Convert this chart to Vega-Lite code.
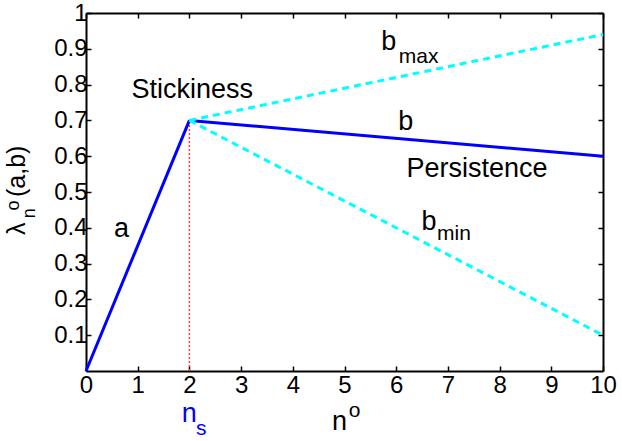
{
  "$schema": "https://vega.github.io/schema/vega-lite/v6.json",
  "width": 517,
  "height": 358,
  "autosize": {"type": "none"},
  "padding": {"left": 86, "top": 13, "right": 19, "bottom": 70},
  "background": "white",
  "config": {
    "view": {"stroke": null},
    "text": {"font": "Liberation Sans", "color": "black"}
  },
  "datasets": {
    "lines": [
      {"seg": "ns", "x": 2, "y": 0},
      {"seg": "ns", "x": 2, "y": 0.7},
      {"seg": "a", "x": 0, "y": 0},
      {"seg": "a", "x": 2, "y": 0.7},
      {"seg": "b", "x": 2, "y": 0.7},
      {"seg": "b", "x": 10, "y": 0.6},
      {"seg": "bmax", "x": 2, "y": 0.7},
      {"seg": "bmax", "x": 10, "y": 0.94},
      {"seg": "bmin", "x": 2, "y": 0.7},
      {"seg": "bmin", "x": 10, "y": 0.1}
    ],
    "labels": [
      {"text": "a", "x": 0.54, "y": 0.374},
      {"text": "Stickiness", "x": 0.88, "y": 0.763},
      {"text": "b", "x": 6.04, "y": 0.673},
      {"text": "Persistence", "x": 6.2, "y": 0.542},
      {"text": "b", "x": 5.71, "y": 0.897},
      {"text": "b", "x": 6.49, "y": 0.394},
      {"text": "n", "x": 4.76, "y": -0.165}
    ],
    "subs": [
      {"text": "max", "x": 6.05, "y": 0.86},
      {"text": "min", "x": 6.79, "y": 0.366},
      {"text": "o", "x": 5.08, "y": -0.128}
    ],
    "ns": [
      {"text": "n", "x": 1.85, "y": -0.142}
    ],
    "nssub": [
      {"text": "s", "x": 2.13, "y": -0.179}
    ],
    "ytitle": [
      {"text": "λ", "x": -1.18, "y": 0.38},
      {"text": "(a,b)", "x": -1.18, "y": 0.486}
    ],
    "ytitlesmall": [
      {"text": "n", "x": -0.99, "y": 0.427},
      {"text": "o", "x": -1.3, "y": 0.448}
    ]
  },
  "resolve": {"axis": {"x": "independent", "y": "independent"}},
  "layer": [
    {
      "data": {"name": "lines"},
      "transform": [{"filter": "datum.seg === 'ns'"}],
      "mark": {"type": "line", "color": "#ff4040", "strokeWidth": 1.5, "strokeDash": [2, 2]},
      "encoding": {
        "x": {"field": "x", "type": "quantitative", "scale": {"domain": [0, 10], "nice": false},
          "axis": {"orient": "bottom", "values": [0,1,2,3,4,5,6,7,8,9,10], "title": null, "grid": false,
            "tickSize": -5, "tickWidth": 1.5, "tickColor": "black", "domainColor": "black", "domainWidth": 2,
            "labelFont": "Liberation Sans", "labelFontSize": 24, "labelColor": "black", "labelPadding": 7,
            "labelFlush": false, "labelOverlap": false, "format": "d"}},
        "y": {"field": "y", "type": "quantitative", "scale": {"domain": [0, 1], "nice": false},
          "axis": {"orient": "left", "values": [0.1,0.2,0.3,0.4,0.5,0.6,0.7,0.8,0.9,1], "title": null, "grid": false,
            "tickSize": -5, "tickWidth": 1.5, "tickColor": "black", "domainColor": "black", "domainWidth": 2,
            "labelFont": "Liberation Sans", "labelFontSize": 24, "labelColor": "black", "labelPadding": 4,
            "labelFlush": false, "labelOverlap": false, "format": "~g"}},
        "detail": {"field": "seg"}
      }
    },
    {
      "data": {"name": "lines"},
      "transform": [{"filter": "datum.seg === 'a' || datum.seg === 'b'"}],
      "mark": {"type": "line", "color": "#0000ff", "strokeWidth": 3},
      "encoding": {
        "x": {"field": "x", "type": "quantitative",
          "axis": {"orient": "top", "values": [0,1,2,3,4,5,6,7,8,9,10], "title": null, "grid": false, "labels": false,
            "tickSize": -5, "tickWidth": 1.5, "tickColor": "black", "domainColor": "black", "domainWidth": 2}},
        "y": {"field": "y", "type": "quantitative",
          "axis": {"orient": "right", "values": [0.1,0.2,0.3,0.4,0.5,0.6,0.7,0.8,0.9,1], "title": null, "grid": false, "labels": false,
            "tickSize": -5, "tickWidth": 1.5, "tickColor": "black", "domainColor": "black", "domainWidth": 2}},
        "detail": {"field": "seg"}
      }
    },
    {
      "data": {"name": "lines"},
      "transform": [{"filter": "datum.seg === 'bmax' || datum.seg === 'bmin'"}],
      "mark": {"type": "line", "color": "#00ffff", "strokeWidth": 3, "strokeDash": [7, 5]},
      "encoding": {
        "x": {"field": "x", "type": "quantitative", "axis": null},
        "y": {"field": "y", "type": "quantitative", "axis": null},
        "detail": {"field": "seg"}
      }
    },
    {
      "data": {"name": "labels"},
      "mark": {"type": "text", "fontSize": 27, "align": "left", "baseline": "alphabetic", "clip": false},
      "encoding": {
        "x": {"field": "x", "type": "quantitative", "axis": null},
        "y": {"field": "y", "type": "quantitative", "axis": null},
        "text": {"field": "text"}
      }
    },
    {
      "data": {"name": "subs"},
      "mark": {"type": "text", "fontSize": 21, "align": "left", "baseline": "alphabetic", "clip": false},
      "encoding": {
        "x": {"field": "x", "type": "quantitative", "axis": null},
        "y": {"field": "y", "type": "quantitative", "axis": null},
        "text": {"field": "text"}
      }
    },
    {
      "data": {"name": "ns"},
      "mark": {"type": "text", "fontSize": 27, "align": "left", "baseline": "alphabetic", "color": "#0000ff", "clip": false},
      "encoding": {
        "x": {"field": "x", "type": "quantitative", "axis": null},
        "y": {"field": "y", "type": "quantitative", "axis": null},
        "text": {"field": "text"}
      }
    },
    {
      "data": {"name": "nssub"},
      "mark": {"type": "text", "fontSize": 21, "align": "left", "baseline": "alphabetic", "color": "#0000ff", "clip": false},
      "encoding": {
        "x": {"field": "x", "type": "quantitative", "axis": null},
        "y": {"field": "y", "type": "quantitative", "axis": null},
        "text": {"field": "text"}
      }
    },
    {
      "data": {"name": "ytitle"},
      "mark": {"type": "text", "fontSize": 25, "align": "left", "baseline": "alphabetic", "angle": 270, "clip": false},
      "encoding": {
        "x": {"field": "x", "type": "quantitative", "axis": null},
        "y": {"field": "y", "type": "quantitative", "axis": null},
        "text": {"field": "text"}
      }
    },
    {
      "data": {"name": "ytitlesmall"},
      "mark": {"type": "text", "fontSize": 18, "align": "left", "baseline": "alphabetic", "angle": 270, "clip": false},
      "encoding": {
        "x": {"field": "x", "type": "quantitative", "axis": null},
        "y": {"field": "y", "type": "quantitative", "axis": null},
        "text": {"field": "text"}
      }
    }
  ]
}
